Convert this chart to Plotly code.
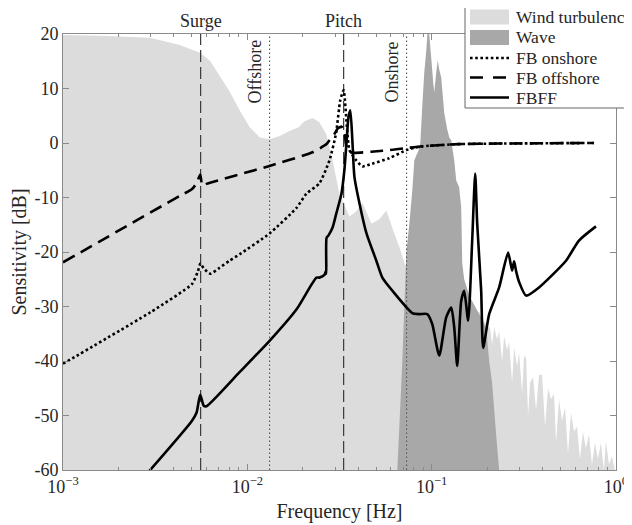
import math
import plotly.graph_objects as go

# ---------------- data ----------------
wind_freq = [0.001, 0.00159, 0.00296, 0.0043, 0.00558, 0.0063, 0.00708, 0.008, 0.00908, 0.0103,
             0.0117, 0.0132, 0.015, 0.0169, 0.019, 0.0204, 0.0226, 0.0246, 0.0269, 0.0289,
             0.0316, 0.0358, 0.039, 0.0421, 0.0447, 0.0471, 0.052, 0.0568, 0.0627, 0.0667,
             0.0711, 0.0756, 0.085, 0.10, 0.13, 0.16, 0.181, 0.195,
             0.200, 0.2077, 0.2128, 0.2182, 0.2265, 0.2323, 0.2411, 0.2472, 0.2566, 0.2631,
             0.2732, 0.2801, 0.2908, 0.2981, 0.3095, 0.3172, 0.3253, 0.3334, 0.3419, 0.3549,
             0.3685, 0.3824, 0.3970, 0.4122, 0.4279, 0.4442, 0.4611, 0.4728, 0.4909, 0.5095,
             0.5289, 0.5491, 0.5700, 0.5918, 0.6143, 0.6377, 0.6620, 0.6871, 0.7134, 0.7405,
             0.7688, 0.7980, 0.8285, 0.8600, 0.8817, 0.9155, 0.9502, 0.9863]
wind_db = [19.8, 19.7, 19.3, 18.0, 16.5, 15.0, 12.3, 9.5, 6.0, 2.9,
           1.0, 0.7, 1.3, 2.2, 2.9, 4.0, 4.6, 3.8, 1.5, -3.0,
           -9.3, -13.5, -12.5, -11.0, -13.0, -14.8, -14.0, -12.4, -16.6, -19.0,
           -22.0, -24.0, -26.0, -28.0, -29.0, -30.0, -31.0, -33.0,
           -33.5, -34, -37, -33.8, -36, -34.5, -40, -35.5, -38, -36.5,
           -44, -37.5, -41, -38.5, -46, -39, -39.5, -50, -44, -43,
           -49, -42.5, -42.5, -52, -45, -47, -46, -55, -47, -51,
           -48.5, -57, -49.5, -53, -52, -58, -53, -56, -53.5, -59,
           -55, -58, -55, -60, -54.7, -59, -57.5, -60]

wave_freq = [0.0651, 0.0668, 0.0693, 0.0711, 0.0729, 0.0756, 0.0785, 0.0805, 0.0825, 0.0846,
             0.0868, 0.089, 0.0912, 0.0935, 0.0952, 0.097, 0.0995, 0.102, 0.1033, 0.1059,
             0.1079, 0.1099, 0.1127, 0.117, 0.1215, 0.1246, 0.1277, 0.1326, 0.1359, 0.141,
             0.1446, 0.1465, 0.1501, 0.1598, 0.181, 0.1975, 0.2051, 0.2128, 0.2237, 0.2323]
wave_db = [-60, -52, -40, -30, -20, -15, -8.7, -3.2, -2.3, -1.5,
           0, 7, 13, 17, 21, 20, 15.5, 11, 9.3, 13,
           15.2, 13.5, 12, 5.5, 2.5, 1, 0.5, -3.2, -6.9, -8.1,
           -11.8, -22, -25, -28, -31.4, -34, -40, -44, -53.5, -60]

fb_on_freq = [0.001, 0.0030, 0.0050, 0.0054, 0.00556, 0.0058, 0.0063, 0.0070, 0.008, 0.0091,
              0.0132, 0.0185, 0.0209, 0.0246, 0.0279, 0.0303, 0.0319, 0.0333, 0.0358, 0.0390,
              0.0421, 0.0475, 0.0588, 0.0729, 0.0805, 0.090, 0.141, 0.232, 0.759]
fb_on_db = [-40.5, -31.0, -25.9, -23.5, -22.1, -23.0, -24.0, -23.0, -21.6, -20.4,
            -16.6, -11.9, -9.3, -7.4, -3.2, 1.8, 7.8, 9.7, -1.3, -3.2,
            -4.3, -3.8, -2.8, -1.3, -0.9, -0.6, -0.2, -0.1, 0.0]

fb_off_freq = [0.001, 0.0043, 0.0050, 0.0053, 0.00555, 0.0057, 0.0060, 0.0132, 0.0226, 0.0269,
               0.0279, 0.0296, 0.031, 0.0325, 0.0335, 0.0342, 0.0350, 0.0380, 0.047, 0.0627,
               0.0738, 0.090, 0.141, 0.232, 0.759]
fb_off_db = [-21.9, -9.7, -8.5, -7.4, -5.8, -7.8, -7.5, -4.2, -1.7, -0.2,
             0.5, 1.6, 2.7, 3.0, 2.5, 0.0, -1.5, -1.8, -1.6, -1.2,
             -0.9, -0.6, -0.2, -0.1, 0.0]

fbff_freq = [0.0028, 0.0050, 0.0053, 0.00555, 0.0058, 0.0060, 0.0091, 0.0132, 0.0185, 0.0237,
             0.0246, 0.0262, 0.0266, 0.0268, 0.0269, 0.0275, 0.0290, 0.0304, 0.0324, 0.0336,
             0.0345, 0.0354, 0.0362, 0.0372, 0.0381, 0.0406, 0.0443, 0.0501, 0.0540, 0.0612,
             0.0785, 0.0857, 0.0947, 0.1007, 0.1099, 0.1199, 0.1277, 0.1326, 0.1376, 0.1446,
             0.1501, 0.1578, 0.1659, 0.1722, 0.1766, 0.1856, 0.1903, 0.2051, 0.2323, 0.2598,
             0.2732, 0.2801, 0.2871, 0.2981, 0.3253, 0.3824, 0.5355, 0.6296, 0.7784]
fbff_db = [-61.0, -51.0, -49.5, -46.2, -48.2, -48.3, -42.0, -36.3, -30.5, -24.7,
           -24.7, -24.2, -23.6, -24.0, -17.4, -17.0, -15.5, -12.9, -9.3, -5.0,
           0.0, 4.8, 6.0, 0.0, -6.2, -11.1, -16.6, -21.6, -24.7, -27.1,
           -31.2, -31.4, -31.4, -33.2, -39.0, -32.0, -30.2, -33.9, -40.9, -29.0,
           -27.1, -32.6, -17.9, -5.6, -14.8, -27.1, -37.6, -31.4, -26.5, -20.1,
           -23.4, -21.7, -23.5, -25.5, -28.0, -26.5, -21.6, -17.9, -15.3]

mode_freqs = [0.00558, 0.0333]
mode_names = ["Surge", "Pitch"]
cutoff_freqs = [0.0132, 0.0731]
cutoff_names = ["Offshore", "Onshore"]

x_tick_vals = [0.001, 0.01, 0.1, 1]
x_tick_text = ["10<sup>\u22123</sup>", "10<sup>\u22122</sup>", "10<sup>\u22121</sup>", "10<sup>0</sup>"]
x_minor_vals = [k * 10.0 ** e for e in (-3, -2, -1) for k in range(2, 10)]
y_tick_vals = [-60, -50, -40, -30, -20, -10, 0, 10, 20]
y_tick_text = ["-60", "-50", "-40", "-30", "-20", "-10", "0", "10", "20"]
Y_MIN, Y_MAX = -60, 20

legend_names = ["Wind turbulence", "Wave", "FB onshore", "FB offshore", "FBFF"]

# ---------------- styles ----------------
FONT = "Liberation Serif, Times New Roman, serif"
TXT = "#262626"
AX = "#8a8a8a"
WIND_C = "#dcdcdc"
WAVE_C = "#a8a8a8"
LW = 2.6
ON_DASH = "2.6px,2.6px"
OFF_DASH = "13px,7px"

fig = go.Figure()

fig.add_trace(go.Scatter(
    x=wind_freq + [wind_freq[-1], wind_freq[0]],
    y=wind_db + [Y_MIN - 5, Y_MIN - 5],
    fill="toself", fillcolor=WIND_C, mode="none", name=legend_names[0]))
fig.add_trace(go.Scatter(
    x=wave_freq + [wave_freq[-1], wave_freq[0]],
    y=wave_db + [Y_MIN - 5, Y_MIN - 5],
    fill="toself", fillcolor=WAVE_C, mode="none", name=legend_names[1]))

for f in mode_freqs:
    fig.add_trace(go.Scatter(x=[f, f], y=[Y_MIN, Y_MAX], mode="lines",
                             line=dict(color="#3a3a3a", width=1.2, dash="12px,5px"), hoverinfo="skip"))
for f in cutoff_freqs:
    fig.add_trace(go.Scatter(x=[f, f], y=[Y_MIN, Y_MAX], mode="lines",
                             line=dict(color="#555555", width=1.1, dash="1.5px,2.5px"), hoverinfo="skip"))

fig.add_trace(go.Scatter(x=fb_on_freq, y=fb_on_db, mode="lines", name=legend_names[2],
                         line=dict(color="black", width=LW, dash=ON_DASH, shape="spline", smoothing=0.5)))
fig.add_trace(go.Scatter(x=fb_off_freq, y=fb_off_db, mode="lines", name=legend_names[3],
                         line=dict(color="black", width=LW, dash=OFF_DASH, shape="spline", smoothing=0.5)))
fig.add_trace(go.Scatter(x=fbff_freq, y=fbff_db, mode="lines", name=legend_names[4],
                         line=dict(color="black", width=LW, shape="spline", smoothing=0.6)))

annotations = []
for f, n in zip(mode_freqs, mode_names):
    annotations.append(dict(x=math.log10(f), y=1, xref="x", yref="paper", text=n, showarrow=False,
                            xanchor="center", yanchor="bottom", yshift=1,
                            font=dict(family=FONT, size=18, color=TXT)))
for f, n in zip(cutoff_freqs, cutoff_names):
    annotations.append(dict(x=math.log10(f), y=0.913, xref="x", yref="paper", text=n, showarrow=False,
                            textangle=-90, xanchor="center", yanchor="middle", xshift=-15,
                            font=dict(family=FONT, size=18, color=TXT)))

# ---------------- legend box (shapes + text, in paper coordinates) ----------------
# page pixels of the plot area (the page body adds an 8px offset to the figure)
PLOT_L, PLOT_W, PLOT_B, PLOT_H = 63, 553, 470, 436
def px_x(px):
    return (px - PLOT_L) / PLOT_W
def px_y(py):
    return (PLOT_B - py) / PLOT_H

shapes = [dict(type="rect", xref="paper", yref="paper", x0=px_x(465), x1=px_x(650),
               y0=px_y(108), y1=px_y(3), fillcolor="white", line=dict(color="#666666", width=1),
               layer="above")]
row_y = [17, 37.5, 58, 77.5, 97.5]
sw_x0, sw_x1 = px_x(470), px_x(509)
for i, col in enumerate([WIND_C, WAVE_C]):
    shapes.append(dict(type="rect", xref="paper", yref="paper", x0=sw_x0, x1=sw_x1,
                       y0=px_y(row_y[i] + 7.5), y1=px_y(row_y[i] - 7.5),
                       fillcolor=col, line=dict(width=0), layer="above"))
for i, dash in zip([2, 3, 4], [ON_DASH, "13px,10px", "solid"]):
    shapes.append(dict(type="line", xref="paper", yref="paper", x0=sw_x0, x1=sw_x1,
                       y0=px_y(row_y[i]), y1=px_y(row_y[i]),
                       line=dict(color="black", width=LW, dash=dash), layer="above"))
for i, n in enumerate(legend_names):
    annotations.append(dict(x=px_x(514), y=px_y(row_y[i]), xref="paper", yref="paper", text=n,
                            showarrow=False, xanchor="left", yanchor="middle",
                            font=dict(family=FONT, size=17.5, color=TXT)))

fig.update_layout(
    width=624, height=517,
    margin=dict(l=55, r=16, t=26, b=55, autoexpand=False),
    paper_bgcolor="white", plot_bgcolor="white",
    font=dict(family=FONT, size=18, color=TXT),
    showlegend=False,
    annotations=annotations,
    shapes=shapes,
)
fig.update_xaxes(
    type="log", range=[-3, 0], tickvals=x_tick_vals, ticktext=x_tick_text,
    ticks="inside", ticklen=6, tickcolor=AX, showline=True, linecolor=AX, linewidth=1,
    mirror="ticks", showgrid=False, zeroline=False,
    minor=dict(ticks="inside", ticklen=3, tickcolor=AX, showgrid=False, tickvals=x_minor_vals),
    tickfont=dict(family=FONT, size=18, color=TXT),
    title=dict(text="Frequency [Hz]", font=dict(family=FONT, size=20, color=TXT), standoff=8),
)
fig.update_yaxes(
    range=[Y_MIN, Y_MAX], tickvals=y_tick_vals, ticktext=y_tick_text,
    ticks="inside", ticklen=6, tickcolor=AX, showline=True, linecolor=AX, linewidth=1,
    mirror="ticks", showgrid=False, zeroline=False,
    tickfont=dict(family=FONT, size=18, color=TXT),
    title=dict(text="Sensitivity [dB]", font=dict(family=FONT, size=20, color=TXT), standoff=6),
)

fig.write_html("out.html")
